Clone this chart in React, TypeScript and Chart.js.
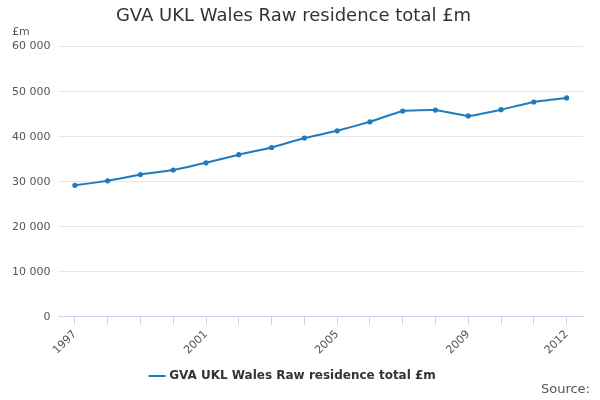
import React, { useEffect, useRef } from "react";
import { Chart, registerables } from "chart.js";
Chart.register(...registerables);

const years = ["1997","1998","1999","2000","2001","2002","2003","2004","2005","2006","2007","2008","2009","2010","2011","2012"];
const values = [29200,30200,31600,32600,34200,36000,37600,39700,41300,43300,45700,45900,44600,46000,47700,48600];
const shownLabels = ["1997","2001","2005","2009","2012"];
const seriesName = "GVA UKL Wales Raw residence total £m";

const footer = {
  id: "footer",
  afterDraw(chart: any) {
    const ctx = chart.ctx;
    ctx.save();
    ctx.font = "13px 'DejaVu Sans'";
    ctx.fillStyle = "#555";
    ctx.textAlign = "right";
    ctx.textBaseline = "middle";
    ctx.fillText("Source:", 590, 390);
    ctx.font = "11px 'DejaVu Sans'";
    ctx.textAlign = "left";
    ctx.fillText("£m", 12, 32);
    ctx.restore();
  },
};

export default function App() {
  const ref = useRef<HTMLCanvasElement>(null);
  useEffect(() => {
    const chart = new Chart(ref.current!, {
      type: "line",
      data: {
        labels: years,
        datasets: [{
          label: seriesName,
          data: values,
          borderColor: "#1f7bbf",
          backgroundColor: "#1f7bbf",
          borderWidth: 2,
          pointRadius: 1.6,
          tension: 0.1,
        }],
      },
      options: {
        animation: false,
        responsive: false,
        layout: { padding: { left: 4, right: 17, top: 0, bottom: 8 } },
        plugins: {
          title: { display: true, text: seriesName, color: "#333", font: { family: "DejaVu Sans", size: 18, weight: "normal" }, padding: { top: 6, bottom: 19 } },
          legend: {
            position: "bottom",
            labels: { color: "#333", font: { family: "DejaVu Sans", size: 12, weight: "bold" }, usePointStyle: true, pointStyle: "line", boxWidth: 16 },
          },
          tooltip: { enabled: false },
        },
        scales: {
          x: {
            offset: true,
            grid: { display: true, drawOnChartArea: false, drawTicks: true, offset: false, tickLength: 8, color: "#ccd6eb" },
            border: { color: "#ccd6eb" },
            ticks: {
              autoSkip: false, maxRotation: 45, minRotation: 45, color: "#555",
              font: { family: "DejaVu Sans", size: 11 },
              callback: (_v: any, i: number) => shownLabels.includes(years[i]) ? years[i] : "",
            },
          },
          y: {
            min: 0, max: 60000,
            grid: { color: "#e6e6e6", drawTicks: false },
            border: { display: false },
            ticks: {
              stepSize: 10000, color: "#555", padding: 8,
              font: { family: "DejaVu Sans", size: 11 },
              callback: (v: any) => String(v).replace(/\B(?=(\d{3})+(?!\d))/g, " "),
            },
          },
        },
      },
      plugins: [footer],
    });
    return () => chart.destroy();
  }, []);
  return <canvas ref={ref} width={600} height={400} style={{ position: "absolute", left: 0, top: 0 }} />;
}
